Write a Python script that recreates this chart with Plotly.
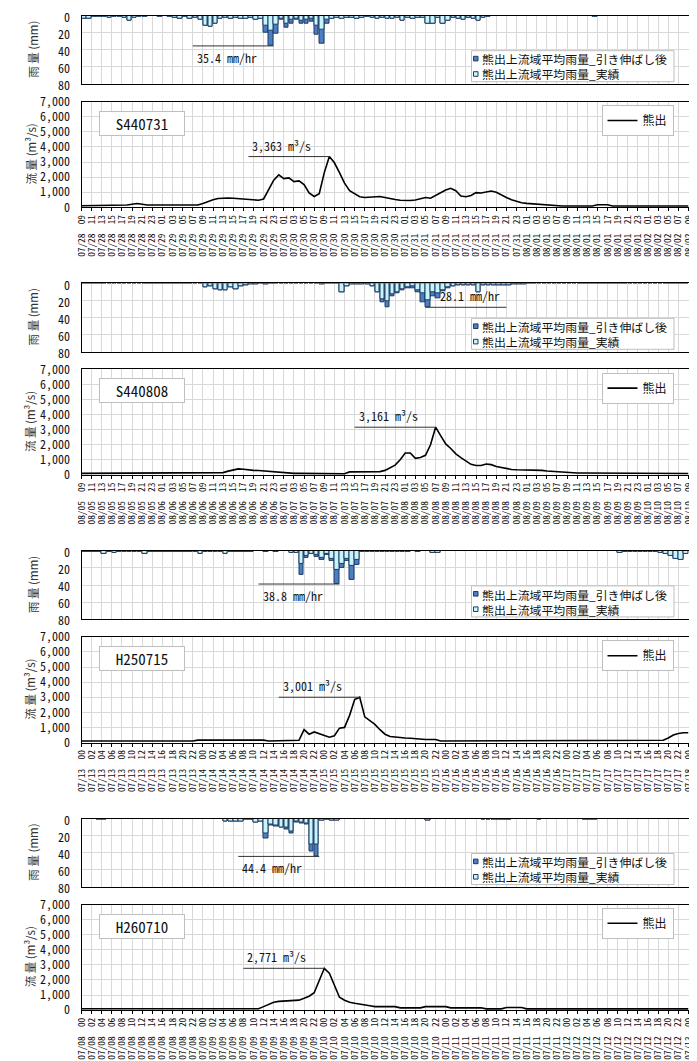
import plotly.graph_objects as go
import pandas as pd

# ---------------- data ----------------
events = ["S440731", "S440808", "H250715", "H260710"]
start_times = ["1969-07-28 09:00", "1969-08-05 09:00", "2013-07-13 00:00", "2014-07-08 00:00"]
tick_labels = [list(pd.date_range(s, periods=61, freq="2h").strftime("%m/%d  %H")) for s in start_times]

rain_series_names = ["熊出上流域平均雨量_引き伸ばし後", "熊出上流域平均雨量_実績"]
flow_series_name = "熊出"

# event 1 (S440731) hourly basin rainfall [mm]
r1_act = [3, 3, 1, 1, 1, 2, 1, 1, 2, 6, 2, 1, 1, 0.5, 0, 1, 0.5, 1, 2, 4,
          1, 4, 2, 5, 12, 13, 9, 4, 2, 3, 2, 4, 3, 2, 5, 4, 12, 17, 11, 3,
          9, 5, 3, 6, 5, 4, 12, 16, 5, 3, 2, 3, 2, 2, 3, 2, 1, 2, 3, 2,
          3, 3, 2, 6, 2, 3, 2, 2, 9, 9, 2, 9, 6, 2, 3, 5, 2, 3, 6, 2,
          1, 0.5, 0, 0, 0, 0, 0, 0, 0, 0.5, 0, 0, 0, 0, 0, 0, 0.5, 0, 0, 0,
          0, 1, 0, 0, 0, 0.5, 0, 0, 0, 0, 0, 0, 0, 0.5, 0, 0, 0, 0.5, 0.5, 0.5]
r1_str = [3, 3, 1, 1, 1, 2, 1, 1, 2, 6, 2, 1, 1, 0.5, 0, 1, 0.5, 1, 2, 4,
          1, 4, 2, 5, 12, 13, 9, 4, 2, 3, 2, 4, 3, 2, 5, 4, 20, 35.4, 21, 5,
          14, 9, 5, 9, 9, 7, 22, 33, 9, 3, 2, 3, 2, 2, 3, 2, 1, 2, 3, 2,
          3, 3, 2, 6, 2, 3, 2, 2, 9, 9, 2, 9, 6, 2, 3, 5, 2, 3, 6, 2,
          1, 0.5, 0, 0, 0, 0, 0, 0, 0, 0.5, 0, 0, 0, 0, 0, 0, 0.5, 0, 0, 0,
          0, 1, 0, 0, 0, 0.5, 0, 0, 0, 0, 0, 0, 0, 0.5, 0, 0, 0, 0.5, 0.5, 0.5]

# event 2 (S440808)
r2_act = [0] * 24 + [5, 3, 7, 8, 8, 5, 7, 3, 2, 1, 1, 0, 1, 0, 0.5, 0.5, 0.5, 0.5, 0.5, 0.5,
          0.5, 0, 0, 1, 0.5, 0, 0, 10, 3, 1, 1, 1, 1, 3, 11, 19, 21, 13, 10, 7,
          5, 4, 8, 12, 20, 11, 12, 8, 5, 3, 2, 2, 2, 2, 10, 2, 2, 2, 2, 2,
          2, 1, 1, 1, 0.5, 0.5, 0.5, 0.5, 0.5, 0.5, 0.5, 0.5] + [0] * 24
r2_str = [0] * 24 + [5, 3, 7, 8, 8, 5, 7, 3, 2, 1, 1, 0, 1, 0, 0.5, 0.5, 0.5, 0.5, 0.5, 0.5,
          0.5, 0, 0, 1, 0.5, 0, 0, 10, 3, 1, 1, 1, 1, 3, 11, 22, 28, 15, 12, 8,
          6, 6, 10, 22, 28.1, 15, 17, 9, 6, 3, 2, 2, 2, 2, 10, 2, 2, 2, 2, 2,
          2, 1, 1, 1, 0.5, 0.5, 0.5, 0.5, 0.5, 0.5, 0.5, 0.5] + [0] * 24

# event 3 (H250715)
r3_act = [1, 1, 1, 1, 4, 1.5, 2, 1, 1, 1, 1, 1, 3, 1.5, 1, 1, 1, 1, 1, 1,
          1, 1, 1, 3, 1, 1, 1, 1, 3, 1, 1, 1, 1, 1, 0, 0, 1, 0, 1, 0,
          0, 2, 2, 15, 6, 3, 5, 8, 4, 9, 22, 15, 9, 18, 10, 1, 1, 1, 1, 1,
          1, 1, 1, 1, 1, 0, 1, 0, 0, 2, 2, 0, 0, 0, 0, 0, 0, 0, 0, 0,
          0, 0, 0, 0, 0, 0, 0, 0, 0, 0, 0, 0, 0, 0, 0, 0, 0, 0, 0, 0,
          0, 0, 0, 0, 0, 0, 2, 1, 1, 1, 1, 1, 1, 1, 2, 4, 6, 9, 10, 4]
r3_str = [1, 1, 1, 1, 4, 1.5, 2, 1, 1, 1, 1, 1, 3, 1.5, 1, 1, 1, 1, 1, 1,
          1, 1, 1, 3, 1, 1, 1, 1, 3, 1, 1, 1, 1, 1, 0, 0, 1, 0, 1, 0,
          0, 2, 2, 28, 8, 4, 7, 11, 5, 12, 38.8, 20, 12, 34, 16, 1, 1, 1, 1, 1,
          1, 1, 1, 1, 1, 0, 1, 0, 0, 2, 2, 0, 0, 0, 0, 0, 0, 0, 0, 0,
          0, 0, 0, 0, 0, 0, 0, 0, 0, 0, 0, 0, 0, 0, 0, 0, 0, 0, 0, 0,
          0, 0, 0, 0, 0, 0, 2, 1, 1, 1, 1, 1, 1, 1, 2, 4, 6, 9, 10, 4]

# event 4 (H260710)
r4_act = [0, 0, 0, 1, 1, 0, 0, 0, 0, 0, 0, 0, 0, 0, 0, 0, 0, 0, 0, 0,
          0, 0, 0, 0, 0, 0, 0, 0, 4, 3, 3, 4, 1, 1, 5, 3, 17, 7, 8, 10,
          11, 15, 4, 5, 6, 30, 30, 2, 1, 2, 2, 0.5, 0, 0, 0, 0, 0, 0, 0, 0,
          0, 0, 0, 0, 0, 0, 0, 0, 2, 0, 0, 0, 0, 0, 0, 0, 0, 0, 0, 1,
          1, 1, 1, 1, 1, 0, 0, 0, 0, 0.5, 1, 0.5, 0, 0, 0, 0, 0, 0, 0, 1,
          1, 1, 0, 0, 0, 0, 0, 0, 0, 0, 0, 0, 0, 0, 0, 0, 0, 0, 0, 0]
r4_str = [0, 0, 0, 1, 1, 0, 0, 0, 0, 0, 0, 0, 0, 0, 0, 0, 0, 0, 0, 0,
          0, 0, 0, 0, 0, 0, 0, 0, 4, 3, 3, 4, 1, 1, 5, 3, 24, 8, 9, 11,
          13, 17, 5, 6, 7, 39, 44.4, 2, 1, 2, 2, 0.5, 0, 0, 0, 0, 0, 0, 0, 0,
          0, 0, 0, 0, 0, 0, 0, 0, 2, 0, 0, 0, 0, 0, 0, 0, 0, 0, 0, 1,
          1, 1, 1, 1, 1, 0, 0, 0, 0, 0.5, 1, 0.5, 0, 0, 0, 0, 0, 0, 0, 1,
          1, 1, 0, 0, 0, 0, 0, 0, 0, 0, 0, 0, 0, 0, 0, 0, 0, 0, 0, 0]

# hourly discharge at 熊出 [m3/s], 121 points each
f1 = [100] * 9 + [150, 200, 250, 200, 150, 150, 150, 150, 150, 100, 100, 100, 100, 120, 150,
                  250, 400, 500, 580, 620, 620, 600, 580, 560, 520, 480, 470, 550, 1200, 1800,
                  2150, 1900, 1950, 1700, 1750, 1500, 950, 720, 900, 2300, 3363, 2950, 2300, 1600,
                  1100, 900, 700, 650, 680, 720, 720, 650, 560, 520, 470, 450, 450, 480, 550,
                  650, 600, 780, 950, 1150, 1260, 1100, 750, 700, 780, 970, 950, 1000, 1080,
                  1000, 800, 650, 500, 380, 300, 260, 230, 200, 170, 150, 120, 120] \
     + [90] * 7 + [170, 170, 170] + [90] * 16
f2 = [100] * 28 + [150, 250, 330, 400, 370, 320, 300, 290, 260, 230, 200, 180, 150, 100, 100,
                   100, 100] + [80] * 8 \
     + [200, 200, 200, 200, 200, 200, 220, 300, 450, 650, 1000, 1450, 1450, 1100, 1150, 1300,
        2000, 3161, 2600, 2050, 1750, 1400, 1150, 900, 700, 620, 620, 720, 680, 560, 480, 400,
        360, 340, 340, 340, 340, 320, 300, 260, 230, 200, 190, 150, 130, 130, 130, 130] + [90] * 20
f3 = [100] * 23 + [160] * 14 + [100] * 6 \
     + [150, 850, 550, 700, 600, 450, 350, 450, 950, 1000, 1800, 2850, 3001, 1700, 1450, 1200,
        850, 550, 400, 350, 330, 300, 280, 250, 200, 200, 200, 200] \
     + [100] * 44 + [150, 300, 500, 600, 650, 650]
f4 = [90] * 36 + [230, 400, 520, 580, 600, 610, 630, 660, 780, 920, 1150, 1950, 2771, 2450, 1700,
                  850, 650, 520, 450, 380, 320, 290] \
     + [230] * 5 + [150] * 5 + [230] * 5 + [150] * 7 + [80] * 4 + [170] * 4 + [80] * 33

rain_act = [r1_act, r2_act, r3_act, r4_act]
rain_str = [r1_str, r2_str, r3_str, r4_str]
flows = [f1, f2, f3, f4]
rain_label_side = ["left", "right", "left", "left"]

# ---------------- styling / geometry ----------------
# The page body keeps the browser's 8px default margin, so the figure is sized to
# fill the rest of the 697x1061 window and page pixels are shifted by OFF.
OFF = 8
W, H = 697 - OFF, 1061 - OFF
FONT = "Noto Sans Mono CJK JP, Noto Sans CJK JP, sans-serif"
JFONT = "Noto Sans CJK JP, sans-serif"
DARK = "#4a7fc4"
LIGHT = "#c8f5fb"
EDGE = "#1f3b63"
GRID = "#d9d9d9"
PL, PR = 81.5, 688.5
GROUP_TOP = 15.7
GROUP_STEP = 267.6
RAIN_H = 68.3
FLOW_OFF = 86.0
FLOW_H = 105.6


def X(px):
    return (px - OFF) / W


def Y(py):
    return 1 - (py - OFF) / H


hours = list(range(121))
bar_x = [h + 0.5 for h in range(120)]
tickvals = list(range(0, 121, 2))

fig = go.Figure()
shapes = []
annotations = []
layout = {}

for k in range(4):
    nr, nf = 2 * k + 1, 2 * k + 2
    xr = "x" if nr == 1 else f"x{nr}"
    yr = "y" if nr == 1 else f"y{nr}"
    xf, yf = f"x{nf}", f"y{nf}"
    leg = "legend" if k == 0 else f"legend{k + 1}"

    rt = GROUP_TOP + GROUP_STEP * k
    rb = rt + RAIN_H
    ft = rt + FLOW_OFF
    fb = ft + FLOW_H

    fig.add_trace(go.Bar(x=bar_x, y=rain_str[k], width=0.9, name=rain_series_names[0],
                         marker=dict(color=DARK, line=dict(color=EDGE, width=1)),
                         xaxis=xr, yaxis=yr, showlegend=False))
    fig.add_trace(go.Bar(x=bar_x, y=rain_act[k], width=0.9, name=rain_series_names[1],
                         marker=dict(color=LIGHT, line=dict(color=EDGE, width=1)),
                         xaxis=xr, yaxis=yr, showlegend=False))
    fig.add_trace(go.Scatter(x=hours, y=flows[k], mode="lines", name=flow_series_name,
                             line=dict(color="black", width=1.6), xaxis=xf, yaxis=yf,
                             legend=leg))

    common_x = dict(domain=[X(PL), X(PR)], range=[0, 120], tickvals=tickvals,
                    showgrid=True, gridcolor=GRID, gridwidth=1, zeroline=False,
                    showline=True, mirror=True, linecolor="black", linewidth=1,
                    automargin=False, ticklabeloverflow="allow")
    layout["xaxis" if nr == 1 else f"xaxis{nr}"] = dict(common_x, anchor=yr, showticklabels=False,
                                                         ticks="")
    layout[f"xaxis{nf}"] = dict(common_x, anchor=yf, ticktext=tick_labels[k], tickangle=-90,
                                ticks="outside", ticklen=3, tickcolor="black",
                                tickfont=dict(size=9.3, family=FONT, color="#111"))
    layout["yaxis" if nr == 1 else f"yaxis{nr}"] = dict(
        domain=[Y(rb), Y(rt)], range=[80, 0], anchor=xr, tickvals=[0, 20, 40, 60, 80],
        showgrid=True, gridcolor=GRID, zeroline=False, showline=True, mirror=True,
        linecolor="black", linewidth=1, ticks="", ticklabelstandoff=8, automargin=False,
        ticklabeloverflow="allow", ticklabelshift=-2,
        tickfont=dict(size=12, family=FONT, color="#111"))
    layout[f"yaxis{nf}"] = dict(
        domain=[Y(fb), Y(ft)], range=[0, 7000], anchor=xf, tickvals=list(range(0, 7001, 1000)),
        tickformat=",", showgrid=True, gridcolor=GRID, zeroline=False, showline=True,
        mirror=True, linecolor="black", linewidth=1, ticks="", ticklabelstandoff=8,
        automargin=False, ticklabeloverflow="allow",
        tickfont=dict(size=12, family=FONT, color="#111"))

    # flow legend (native)
    layout[leg] = dict(x=X(673.5), xanchor="right", y=Y(ft + 3.3), yanchor="top",
                       bgcolor="white", bordercolor="#bfbfbf", borderwidth=1,
                       font=dict(size=12, family=JFONT, color="#111"), itemwidth=30,
                       tracegroupgap=0)

    # rain legend box (two-row key drawn as shapes + one two-line text)
    shapes.append(dict(type="rect", xref="paper", yref="paper", x0=X(471.5), x1=X(674),
                       y0=Y(rt + 66), y1=Y(rt + 35), fillcolor="white",
                       line=dict(color="#bfbfbf", width=1), layer="above"))
    for col, cy in [(DARK, rt + 42.9), (LIGHT, rt + 58.3)]:
        shapes.append(dict(type="rect", xref="paper", yref="paper", x0=X(473.5), x1=X(478),
                           y0=Y(cy + 2.3), y1=Y(cy - 2.3), fillcolor=col,
                           line=dict(color=EDGE, width=1), layer="above"))
    annotations.append(dict(xref="paper", yref="paper", x=X(479.5), y=Y(rt + 50.6),
                            xanchor="left", yanchor="middle", align="left", showarrow=False,
                            text="<br>".join(rain_series_names),
                            font=dict(size=11.9, family=JFONT, color="#111")))

    # axis titles
    annotations.append(dict(xref="paper", yref="paper", x=X(33), y=Y((rt + rb) / 2),
                            xanchor="center", yanchor="middle",
                            text="雨 量 (mm)", textangle=-90, showarrow=False,
                            font=dict(size=11.5, family=JFONT, color="#333")))
    annotations.append(dict(xref="paper", yref="paper", x=X(30), y=Y((ft + fb) / 2),
                            xanchor="center", yanchor="middle",
                            text="流 量 (m³/s)", textangle=-90, showarrow=False,
                            font=dict(size=11.5, family=JFONT, color="#333")))

    # event name box
    annotations.append(dict(xref="paper", yref="paper", x=X(141.5), y=Y(ft + 21.5),
                            xanchor="center", yanchor="middle",
                            text=events[k], showarrow=False, width=84, height=23, borderpad=0,
                            bordercolor="#bfbfbf", borderwidth=1, bgcolor="white",
                            font=dict(size=15, family=FONT, color="#111")))

    # flow peak marker line + label
    fpk = max(flows[k])
    fi = flows[k].index(fpk)
    shapes.append(dict(type="line", xref=xf, yref=yf, x0=fi - 16, x1=fi, y0=fpk, y1=fpk,
                       line=dict(color="#333", width=1)))
    annotations.append(dict(xref=xf, yref=yf, x=fi - 15.6, y=fpk, xanchor="left",
                            yanchor="bottom", yshift=1, showarrow=False,
                            text=f"{fpk:,} m³/s", font=dict(size=12, family=FONT, color="#111")))

    # rain peak marker line + label
    rpk = max(rain_str[k])
    ri = rain_str[k].index(rpk)
    if rain_label_side[k] == "left":
        lx0, lx1 = ri + 1 - 16, ri + 1
        annotations.append(dict(xref=xr, yref=yr, x=lx0 + 0.4, y=rpk, xanchor="left",
                                yanchor="top", yshift=-1, showarrow=False,
                                text=f"{rpk:.1f} mm/hr",
                                font=dict(size=12, family=FONT, color="#111")))
    else:
        lx0, lx1 = ri, ri + 16
        annotations.append(dict(xref=xr, yref=yr, x=lx1 - 0.8, y=rpk, xanchor="right",
                                yanchor="bottom", yshift=1, showarrow=False,
                                text=f"{rpk:.1f} mm/hr",
                                font=dict(size=12, family=FONT, color="#111")))
    shapes.append(dict(type="line", xref=xr, yref=yr, x0=lx0, x1=lx1, y0=rpk, y1=rpk,
                       line=dict(color="#333", width=1)))

fig.update_layout(**layout)
fig.update_layout(width=W, height=H, margin=dict(l=0, r=0, t=0, b=0), barmode="overlay",
                  bargap=0, plot_bgcolor="white", paper_bgcolor="white",
                  font=dict(family=FONT, size=12, color="#111"),
                  shapes=shapes, annotations=annotations)

fig.write_html("out.html")
